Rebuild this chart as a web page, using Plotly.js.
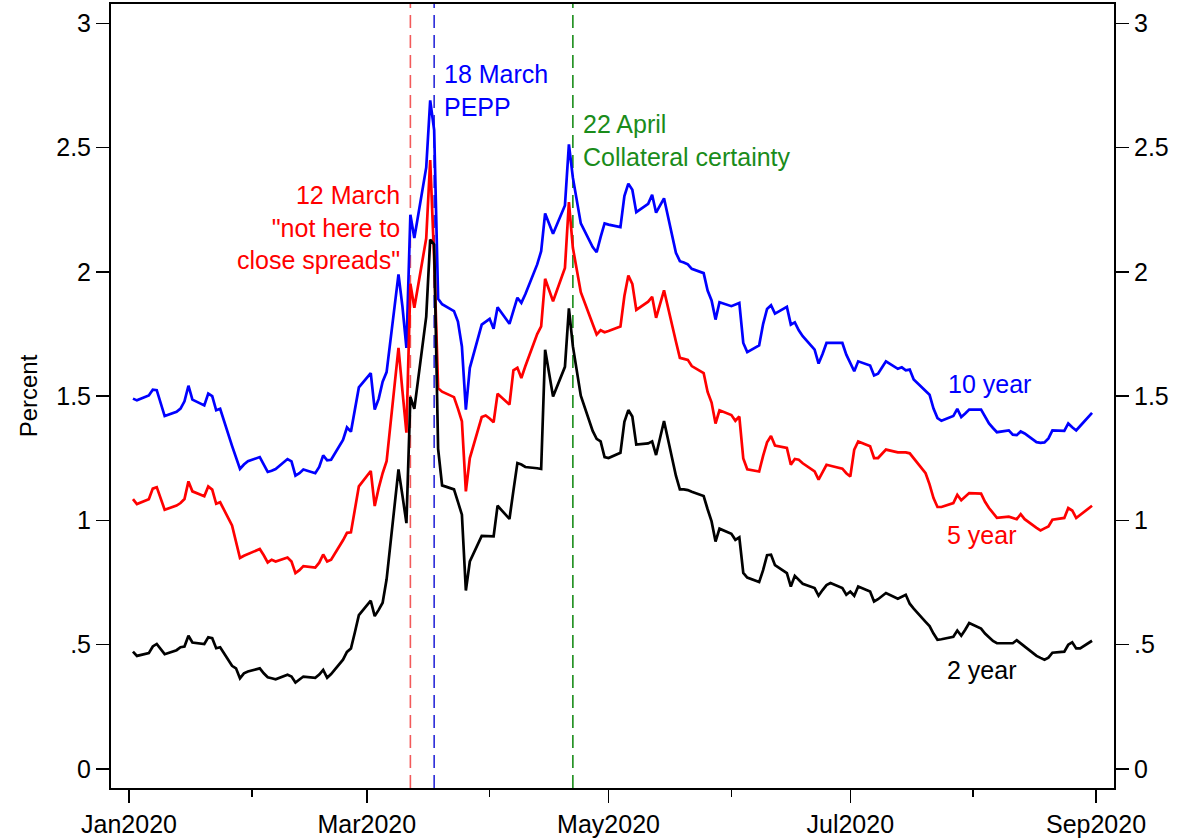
<!DOCTYPE html>
<html>
<head>
<meta charset="utf-8">
<script src="https://cdn.plot.ly/plotly-3.0.1.min.js"></script>
<style>html,body{margin:0;padding:0;background:#fff;}#chart{width:1196px;height:838px;}</style>
</head>
<body>
<div id="chart"></div>
<script>
// Business days, Jan 2 - Aug 31 2020
const dates = [
"2020-01-02","2020-01-03","2020-01-06","2020-01-07","2020-01-08","2020-01-09","2020-01-10","2020-01-13","2020-01-14","2020-01-15","2020-01-16","2020-01-17","2020-01-20","2020-01-21","2020-01-22","2020-01-23","2020-01-24","2020-01-27","2020-01-28","2020-01-29","2020-01-30","2020-01-31",
"2020-02-03","2020-02-04","2020-02-05","2020-02-06","2020-02-07","2020-02-10","2020-02-11","2020-02-12","2020-02-13","2020-02-14","2020-02-17","2020-02-18","2020-02-19","2020-02-20","2020-02-21","2020-02-24","2020-02-25","2020-02-26","2020-02-27","2020-02-28",
"2020-03-02","2020-03-03","2020-03-04","2020-03-05","2020-03-06","2020-03-09","2020-03-10","2020-03-11","2020-03-12","2020-03-13","2020-03-16","2020-03-17","2020-03-18","2020-03-19","2020-03-20","2020-03-23","2020-03-24","2020-03-25","2020-03-26","2020-03-27","2020-03-30","2020-03-31",
"2020-04-01","2020-04-02","2020-04-03","2020-04-06","2020-04-07","2020-04-08","2020-04-09","2020-04-10","2020-04-13","2020-04-14","2020-04-15","2020-04-16","2020-04-17","2020-04-20","2020-04-21","2020-04-22","2020-04-23","2020-04-24","2020-04-27","2020-04-28","2020-04-29","2020-04-30",
"2020-05-01","2020-05-04","2020-05-05","2020-05-06","2020-05-07","2020-05-08","2020-05-11","2020-05-12","2020-05-13","2020-05-14","2020-05-15","2020-05-18","2020-05-19","2020-05-20","2020-05-21","2020-05-22","2020-05-25","2020-05-26","2020-05-27","2020-05-28","2020-05-29",
"2020-06-01","2020-06-02","2020-06-03","2020-06-04","2020-06-05","2020-06-08","2020-06-09","2020-06-10","2020-06-11","2020-06-12","2020-06-15","2020-06-16","2020-06-17","2020-06-18","2020-06-19","2020-06-22","2020-06-23","2020-06-24","2020-06-25","2020-06-26","2020-06-29","2020-06-30",
"2020-07-01","2020-07-02","2020-07-03","2020-07-06","2020-07-07","2020-07-08","2020-07-09","2020-07-10","2020-07-13","2020-07-14","2020-07-15","2020-07-16","2020-07-17","2020-07-20","2020-07-21","2020-07-22","2020-07-23","2020-07-24","2020-07-27","2020-07-28","2020-07-29","2020-07-30","2020-07-31",
"2020-08-03","2020-08-04","2020-08-05","2020-08-06","2020-08-07","2020-08-10","2020-08-11","2020-08-12","2020-08-13","2020-08-14","2020-08-17","2020-08-18","2020-08-19","2020-08-20","2020-08-21","2020-08-24","2020-08-25","2020-08-26","2020-08-27","2020-08-28","2020-08-31"
];

const y10 = [
1.490,1.483,1.503,1.526,1.524,1.475,1.420,1.437,1.450,1.479,1.542,1.486,1.463,1.510,1.500,1.443,1.449,1.300,1.255,1.207,1.225,1.238,
1.255,1.225,1.195,1.200,1.207,1.247,1.238,1.180,1.190,1.205,1.190,1.215,1.262,1.242,1.244,1.324,1.374,1.357,1.450,1.535,
1.593,1.446,1.489,1.558,1.597,1.990,1.860,1.694,2.230,2.136,2.420,2.690,2.570,1.892,1.870,1.842,1.800,1.700,1.446,1.614,1.788,1.800,
1.811,1.771,1.858,1.791,1.840,1.896,1.875,1.910,2.030,2.083,2.235,2.190,2.153,2.267,2.513,2.379,2.290,2.195,2.100,2.079,2.140,2.195,
2.190,2.180,2.305,2.355,2.330,2.240,2.274,2.310,2.238,2.270,2.296,2.077,2.043,2.038,2.030,2.012,1.995,1.925,1.885,1.808,1.878,
1.862,1.868,1.875,1.714,1.677,1.704,1.790,1.851,1.866,1.832,1.859,1.788,1.797,1.765,1.741,1.687,1.631,1.670,1.714,1.714,1.714,1.667,
1.630,1.600,1.640,1.623,1.583,1.590,1.615,1.640,1.610,1.616,1.604,1.607,1.567,1.520,1.506,1.450,1.412,1.401,1.420,1.449,1.416,1.430,1.446,
1.446,1.415,1.390,1.372,1.355,1.362,1.345,1.343,1.358,1.350,1.315,1.312,1.314,1.330,1.362,1.360,1.390,1.375,1.362,1.380,1.433
];

const y5 = [
1.086,1.066,1.085,1.128,1.134,1.090,1.043,1.060,1.070,1.086,1.157,1.117,1.097,1.137,1.124,1.067,1.073,0.980,0.910,0.849,0.858,0.865,
0.885,0.860,0.831,0.842,0.835,0.851,0.835,0.788,0.800,0.816,0.810,0.830,0.863,0.835,0.842,0.920,0.950,0.952,1.040,1.137,
1.199,1.058,1.130,1.190,1.238,1.694,1.520,1.353,1.952,1.856,2.135,2.450,2.050,1.532,1.518,1.496,1.450,1.399,1.117,1.251,1.416,1.422,
1.410,1.395,1.510,1.466,1.604,1.614,1.573,1.620,1.750,1.781,1.972,1.930,1.882,2.016,2.281,2.097,2.000,1.918,1.790,1.748,1.765,1.757,
1.762,1.780,1.903,1.985,1.952,1.847,1.880,1.900,1.815,1.870,1.926,1.720,1.654,1.650,1.646,1.621,1.593,1.517,1.474,1.390,1.443,
1.424,1.401,1.418,1.249,1.206,1.197,1.260,1.314,1.340,1.301,1.292,1.224,1.247,1.244,1.230,1.197,1.164,1.195,1.224,1.220,1.208,1.190,
1.177,1.285,1.318,1.298,1.251,1.251,1.270,1.285,1.274,1.274,1.274,1.270,1.251,1.190,1.145,1.090,1.054,1.054,1.070,1.103,1.081,1.095,1.110,
1.108,1.075,1.050,1.030,1.010,1.015,1.010,1.005,1.025,1.005,0.970,0.960,0.968,0.976,1.003,1.010,1.050,1.040,1.010,1.022,1.059
];

const y2 = [
0.472,0.455,0.466,0.493,0.503,0.480,0.462,0.478,0.490,0.493,0.536,0.509,0.503,0.530,0.526,0.486,0.490,0.415,0.405,0.365,0.385,0.392,
0.405,0.385,0.369,0.365,0.361,0.379,0.372,0.348,0.360,0.372,0.367,0.380,0.399,0.367,0.382,0.440,0.471,0.485,0.550,0.619,
0.677,0.615,0.640,0.669,0.763,1.205,1.100,0.989,1.497,1.449,1.820,2.130,2.110,1.288,1.141,1.125,1.075,1.023,0.718,0.835,0.938,0.937,
0.937,0.936,1.059,1.006,1.120,1.231,1.225,1.215,1.210,1.207,1.687,1.600,1.499,1.618,1.853,1.701,1.600,1.502,1.360,1.328,1.318,1.255,
1.251,1.272,1.397,1.444,1.418,1.305,1.310,1.318,1.263,1.330,1.400,1.180,1.125,1.125,1.122,1.115,1.098,1.045,0.996,0.915,0.967,
0.946,0.922,0.932,0.789,0.770,0.752,0.800,0.860,0.862,0.820,0.788,0.734,0.777,0.760,0.745,0.728,0.697,0.720,0.740,0.748,0.728,0.701,
0.714,0.697,0.734,0.714,0.674,0.683,0.695,0.708,0.685,0.693,0.701,0.665,0.645,0.592,0.575,0.545,0.520,0.522,0.532,0.557,0.536,0.560,0.587,
0.565,0.545,0.530,0.515,0.506,0.506,0.506,0.518,0.505,0.495,0.455,0.447,0.440,0.448,0.468,0.472,0.500,0.510,0.485,0.485,0.516
];

const seriesNames = ["10 year", "5 year", "2 year"];
const xTickVals = ["2020-01-01","2020-03-01","2020-05-01","2020-07-01","2020-09-01"];
const xTickText = ["Jan2020","Mar2020","May2020","Jul2020","Sep2020"];
const xMinorVals = ["2020-02-01","2020-04-01","2020-06-01","2020-08-01"];
const yTickVals = [0, 0.5, 1, 1.5, 2, 2.5, 3];
const yTickText = ["0", ".5", "1", "1.5", "2", "2.5", "3"];
const eventDates = ["2020-03-12", "2020-03-18", "2020-04-22"];
const eventLabels = ["12 March<br>\"not here to<br>close spreads\"", "18 March<br>PEPP", "22 April<br>Collateral certainty"];

const FONT = "Liberation Sans, Arial, Helvetica, sans-serif";
const FS = 25;

const traces = [
  {x: dates, y: y10, name: seriesNames[0], type: "scatter", mode: "lines", line: {color: "#0000ff", width: 2.7}, yaxis: "y"},
  {x: dates, y: y5, name: seriesNames[1], type: "scatter", mode: "lines", line: {color: "#ff0000", width: 2.7}, yaxis: "y"},
  {x: dates, y: y2, name: seriesNames[2], type: "scatter", mode: "lines", line: {color: "#000000", width: 2.7}, yaxis: "y2"}
];

const yRange = [-0.0764, 3.0776];
const yCommon = {
  range: yRange, tickmode: "array", tickvals: yTickVals, ticktext: yTickText,
  ticks: "outside", ticklen: 13, tickwidth: 1.5, tickcolor: "#000",
  showline: true, linecolor: "#000", linewidth: 2,
  showgrid: false, zeroline: false,
  tickfont: {family: FONT, size: FS, color: "#000"}
};

const layout = {
  width: 1196, height: 838,
  margin: {l: 111, r: 82, t: 4, b: 50},
  paper_bgcolor: "#fff", plot_bgcolor: "#fff",
  showlegend: false,
  font: {family: FONT, size: FS, color: "#000"},
  xaxis: {
    type: "date",
    range: ["2019-12-27 11:00", "2020-09-05 13:00"],
    tickmode: "array", tickvals: xTickVals, ticktext: xTickText,
    ticks: "outside", ticklen: 13, tickwidth: 1.5, tickcolor: "#000",
    minor: {tickmode: "array", tickvals: xMinorVals, ticks: "outside", ticklen: 7, tickwidth: 1.5, tickcolor: "#000", showgrid: false},
    showline: true, linecolor: "#000", linewidth: 2, mirror: true,
    showgrid: false, zeroline: false,
    tickfont: {family: FONT, size: FS, color: "#000"}
  },
  yaxis: Object.assign({}, yCommon, {
    side: "left",
    title: {text: "Percent", font: {family: FONT, size: 24, color: "#000"}, standoff: 12}
  }),
  yaxis2: Object.assign({}, yCommon, {side: "right", overlaying: "y"}),
  shapes: [
    {type: "line", xref: "x", yref: "paper", x0: eventDates[0], x1: eventDates[0], y0: 0, y1: 1, layer: "below",
     line: {color: "#f25a5a", width: 1.6, dash: "13px,7px"}},
    {type: "line", xref: "x", yref: "paper", x0: eventDates[1], x1: eventDates[1], y0: 0, y1: 1, layer: "below",
     line: {color: "#2a2ad8", width: 1.6, dash: "13px,7px"}},
    {type: "line", xref: "x", yref: "paper", x0: eventDates[2], x1: eventDates[2], y0: 0, y1: 1, layer: "below",
     line: {color: "#1a8c1a", width: 1.6, dash: "13px,7px"}}
  ],
  annotations: [
    {x: eventDates[0], y: 2.177, xref: "x", yref: "y", text: eventLabels[0], showarrow: false,
     xanchor: "right", yanchor: "middle", align: "right", xshift: -8,
     font: {family: FONT, size: FS, color: "#ff0000"}},
    {x: eventDates[1], y: 2.728, xref: "x", yref: "y", text: eventLabels[1], showarrow: false,
     xanchor: "left", yanchor: "middle", align: "left", xshift: 8,
     font: {family: FONT, size: FS, color: "#0000ff"}},
    {x: eventDates[2], y: 2.53, xref: "x", yref: "y", text: eventLabels[2], showarrow: false,
     xanchor: "left", yanchor: "middle", align: "left", xshift: 8,
     font: {family: FONT, size: FS, color: "#1a8c1a"}},
    {x: "2020-08-05", y: 1.549, xref: "x", yref: "y", text: seriesNames[0], showarrow: false,
     xanchor: "center", yanchor: "middle", font: {family: FONT, size: FS, color: "#0000ff"}},
    {x: "2020-08-03", y: 0.942, xref: "x", yref: "y", text: seriesNames[1], showarrow: false,
     xanchor: "center", yanchor: "middle", font: {family: FONT, size: FS, color: "#ff0000"}},
    {x: "2020-08-03", y: 0.399, xref: "x", yref: "y", text: seriesNames[2], showarrow: false,
     xanchor: "center", yanchor: "middle", font: {family: FONT, size: FS, color: "#000000"}}
  ]
};

Plotly.newPlot("chart", traces, layout, {staticPlot: true, displayModeBar: false});
</script>
</body>
</html>
